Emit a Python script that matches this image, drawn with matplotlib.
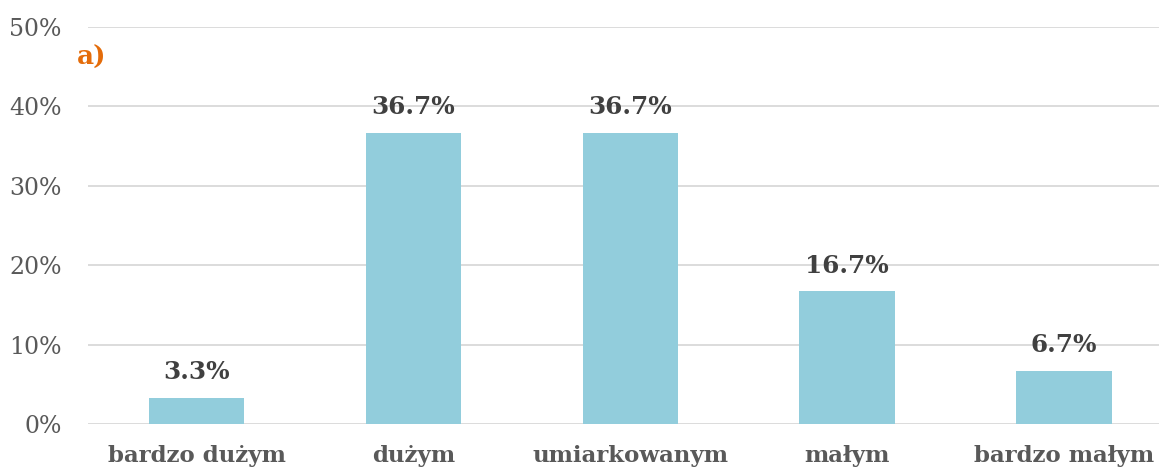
import matplotlib.pyplot as plt

# data
categories = ["bardzo dużym", "dużym", "umiarkowanym", "małym", "bardzo małym"]
values = [3.3, 36.7, 36.7, 16.7, 6.7]
yticks = [0, 10, 20, 30, 40, 50]

plt.rcParams['font.family'] = ['DejaVu Serif']

fig = plt.figure(figsize=(11.59, 4.72), dpi=100)
W, H = 1159, 472
left, right = 88, 1172.5
top, bottom = 27, 424
ax = fig.add_axes([left / W, 1 - bottom / H, (right - left) / W, (bottom - top) / H])

x = range(len(categories))
ax.bar(x, values, width=0.44, color='#92CDDC', zorder=2)
ax.set_xlim(-0.5, len(categories) - 0.5)
ax.set_ylim(0, 50)

ax.set_yticks(yticks)
ax.set_yticklabels([f"{t}%" for t in yticks], fontsize=17, color='#595959')
ax.set_xticks(list(x))
ax.set_xticklabels(categories, fontsize=16.5, fontweight='bold', color='#595959')
ax.tick_params(axis='both', length=0)
ax.tick_params(axis='y', pad=19)
ax.tick_params(axis='x', pad=15)

ax.grid(axis='y', color='#D9D9D9', linewidth=1.3, zorder=0)
for s in ax.spines.values():
    s.set_visible(False)

for xi, v in zip(x, values):
    ax.annotate(f"{v:.1f}%", (xi, v), xytext=(0, 10), textcoords='offset points',
                ha='center', va='bottom', fontsize=17.8, fontweight='bold', color='#404040')

fig.text(77 / W, 1 - 57 / H, "a)", fontsize=19, fontweight='bold', color='#E46C0A',
         ha='left', va='center')

fig.savefig('out.png', dpi=100)
